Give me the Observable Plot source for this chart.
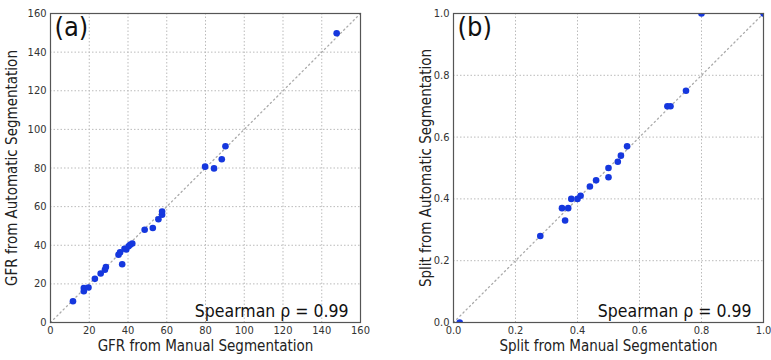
<!DOCTYPE html>
<html><head><meta charset="utf-8">
<script src="https://cdn.jsdelivr.net/npm/d3@7"></script>
<script src="https://cdn.jsdelivr.net/npm/@observablehq/plot@0.6"></script>
<style>
body{margin:0;background:#fff;}
#wrap{position:relative;width:771px;height:360px;}
#a,#b{position:absolute;top:0;}
#a{left:0}#b{left:385px}
</style></head><body><div id="wrap"><div id="a"></div><div id="b"></div></div>
<script>
const gfrManual = [11.6,17.2,17.2,19.6,22.9,25.9,28.1,28.6,35.1,35.9,37.0,38.2,39.1,40.3,41.1,42.2,48.6,52.8,55.7,57.6,57.6,79.8,84.4,88.4,90.3,147.7];
const gfrAuto   = [11.0,17.8,16.2,18.1,22.6,25.4,27.3,28.7,35.1,36.3,30.2,38.2,37.8,39.5,40.2,40.9,48.0,48.9,53.5,55.8,57.5,80.7,79.8,84.5,91.3,149.8];
const splitManual = [0.02,0.28,0.35,0.36,0.37,0.38,0.40,0.41,0.44,0.46,0.50,0.50,0.53,0.54,0.56,0.69,0.70,0.75,0.80,1.0];
const splitAuto   = [0.00,0.28,0.37,0.33,0.37,0.40,0.40,0.41,0.44,0.46,0.50,0.47,0.52,0.54,0.57,0.70,0.70,0.75,1.00,1.0];
const gfrTicks = [0,20,40,60,80,100,120,140,160];
const splitTicks = [0,0.2,0.4,0.6,0.8,1.0];
const panelTags = ["(a)","(b)"];
const xLabels = ["GFR from Manual Segmentation","Split from Manual Segmentation"];
const yLabels = ["GFR from Automatic Segmentation","Split from Automatic Segmentation"];
const statText = "Spearman \u03c1 = 0.99";

const FONT = '"DejaVu Sans Condensed","Liberation Sans Narrow","DejaVu Sans",sans-serif';

function panel({xs, ys, ticks, fmt, tag, xLabel, yLabel, width, marginLeft, marginRight, yLabelCenter}) {
  const domain = [ticks[0], ticks[ticks.length-1]];
  const pts = xs.map((x,i)=>({x, y: ys[i]}));
  const diag = domain.map(v=>({x:v,y:v}));
  return Plot.plot({
    width, height: 360,
    marginLeft, marginRight, marginTop: 13, marginBottom: 38,
    style: {fontFamily: FONT, fontSize: "11px", color: "#333", background: "#fff"},
    x: {domain, ticks},
    y: {domain, ticks},
    marks: [
      Plot.gridX(ticks, {stroke: "#bbb", strokeOpacity: 1, strokeDasharray: "1.5,2"}),
      Plot.gridY(ticks, {stroke: "#bbb", strokeOpacity: 1, strokeDasharray: "1.5,2"}),
      Plot.line(diag, {x: "x", y: "y", stroke: "#aaa", strokeWidth: 1.3, strokeDasharray: "1.3,3.2"}),
      Plot.dot(pts, {x: "x", y: "y", r: 3.3, fill: "#1537de", stroke: "none", clip: true}),
      Plot.frame({stroke: "#555", strokeWidth: 1.2}),
      Plot.axisX(ticks, {tickSize: 0, tickPadding: 4, tickFormat: fmt, label: null, fontSize: 11}),
      Plot.axisY(ticks, {tickSize: 0, tickPadding: 4, tickFormat: fmt, label: null, fontSize: 11}),
      Plot.text([xLabel], {frameAnchor: "bottom", dy: 24, text: d=>d, fontSize: 15, lineAnchor: "middle", fill: "#222"}),
      Plot.text([yLabel], {frameAnchor: "left", dx: -(marginLeft - yLabelCenter), text: d=>d, fontSize: 15, rotate: -90, textAnchor: "middle", lineAnchor: "middle", fill: "#222"}),
      Plot.text([tag], {frameAnchor: "top-left", dx: 4, dy: 3, text: d=>d, fontSize: 27, lineAnchor: "top", textAnchor: "start", fill: "#111"}),
      Plot.text([statText], {frameAnchor: "bottom-right", dx: -12, dy: -6, text: d=>d, fontSize: 17.5, lineAnchor: "bottom", textAnchor: "end", fill: "#111"})
    ]
  });
}

document.getElementById("a").append(panel({
  xs: gfrManual, ys: gfrAuto, ticks: gfrTicks, fmt: d3.format("d"),
  tag: panelTags[0], xLabel: xLabels[0], yLabel: yLabels[0],
  width: 385, marginLeft: 50, marginRight: 25, yLabelCenter: 12
}));
document.getElementById("b").append(panel({
  xs: splitManual, ys: splitAuto, ticks: splitTicks, fmt: d3.format(".1f"),
  tag: panelTags[1], xLabel: xLabels[1], yLabel: yLabels[1],
  width: 386, marginLeft: 68, marginRight: 8, yLabelCenter: 41
}));
</script></body></html>
